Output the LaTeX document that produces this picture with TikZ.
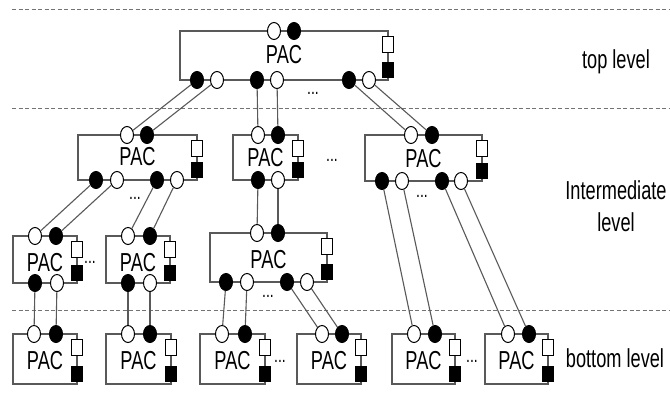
\documentclass[tikz,border=0pt]{standalone}
\usepackage{fontspec}
\newfontfamily\labfont[FakeStretch=0.7]{Liberation Sans}
\usetikzlibrary{shapes.geometric}
\tikzset{
 boxst/.style={rectangle, draw=black!65, line width=1.1pt, inner sep=0pt},
 op/.style={ellipse, draw=black, line width=1pt, fill=white, minimum width=13pt, minimum height=17pt, inner sep=0pt},
 fp/.style={op, fill=black},
 osq/.style={rectangle, draw=black, line width=0.8pt, fill=white, minimum width=10.5pt, minimum height=16pt, inner sep=0pt},
 fsq/.style={osq, fill=black, minimum height=15pt},
 pactext/.style={font=\labfont\fontsize{26}{30}\selectfont, inner sep=0pt, anchor=base},
 dotstext/.style={font=\labfont\fontsize{20}{24}\selectfont, inner sep=0pt, anchor=base},
 conn/.style={draw=black!65, line width=1.1pt},
 levelline/.style={draw=black!55, line width=0.9pt, dash pattern=on 4pt off 2.5pt},
 leveltext/.style={font=\labfont\fontsize{26}{32}\selectfont, inner sep=0pt, align=center},
}
\newcommand\PACbox[6]{%
 \node[boxst, minimum width={(#4-#2)*1pt}, minimum height={(#5-#3)*1pt}] (#1) at ({(#2+#4)/2},{(#3+#5)/2}) {};
 \node[osq] (#1-so) at ({#4},{#3+13}) {};
 \node[fsq] (#1-sf) at ({#4},{#5-10}) {};
 \node[pactext] (#1-t) at ({(#2+#4)/2},{#6}) {PAC};
}
\begin{document}
\begin{tikzpicture}[x=1pt,y=-1pt]
\fill[white] (0,0) rectangle (670,407);
\useasboundingbox (0,0) rectangle (670,407);

% level separators
\draw[levelline] (12,9.5) -- (670,9.5);
\draw[levelline] (12,108.5) -- (670,108.5);
\draw[levelline] (12,310.5) -- (670,310.5);

% level labels
\node[leveltext, anchor=base] (lt) at (616,68) {top level};
\node[leveltext] (li) at (616,206.5) {Intermediate\\level};
\node[leveltext, anchor=base] (lb) at (615,367) {bottom level};

% boxes
\PACbox{T}{180}{31}{388}{80}{63}
\PACbox{I1}{78}{135}{197}{180}{165}
\PACbox{I2}{233}{135}{298}{180}{166}
\PACbox{I3}{365}{135}{482}{181}{167}
\PACbox{L1}{13}{236}{77}{283}{271}
\PACbox{L2}{106}{236}{170}{283}{271}
\PACbox{L3}{210}{233}{327}{282}{268}
\PACbox{B1}{13}{334}{77}{384}{369}
\PACbox{B2}{106}{334}{171}{384}{369}
\PACbox{B3}{200}{334}{265}{384}{369}
\PACbox{B4}{297}{334}{361}{384}{369}
\PACbox{B5}{392}{334}{455}{384}{369}
\PACbox{B6}{485}{334}{548}{384}{369}

% ports: top
\node[op] (T-to) at (274,31) {};
\node[fp] (T-tf) at (294,31) {};
\node[fp] (T-b1f) at (197,80) {};
\node[op] (T-b1o) at (217,80) {};
\node[fp] (T-b2f) at (257,80) {};
\node[op] (T-b2o) at (277,80) {};
\node[fp] (T-b3f) at (349,80) {};
\node[op] (T-b3o) at (369,80) {};

% intermediate upper
\node[op] (I1-to) at (127,135) {};
\node[fp] (I1-tf) at (147,135) {};
\node[fp] (I1-b1f) at (96,180) {};
\node[op] (I1-b1o) at (117,180) {};
\node[fp] (I1-b2f) at (157,180) {};
\node[op] (I1-b2o) at (177,180) {};

\node[op] (I2-to) at (258,135) {};
\node[fp] (I2-tf) at (278,135) {};
\node[fp] (I2-bf) at (258,180) {};
\node[op] (I2-bo) at (278,180) {};

\node[op] (I3-to) at (411,135) {};
\node[fp] (I3-tf) at (432,135) {};
\node[fp] (I3-b1f) at (382,181) {};
\node[op] (I3-b1o) at (402,181) {};
\node[fp] (I3-b2f) at (442,181) {};
\node[op] (I3-b2o) at (461,181) {};

% intermediate lower
\node[op] (L1-to) at (35,236) {};
\node[fp] (L1-tf) at (56,236) {};
\node[fp] (L1-bf) at (35,283) {};
\node[op] (L1-bo) at (57,283) {};

\node[op] (L2-to) at (128,236) {};
\node[fp] (L2-tf) at (150,236) {};
\node[fp] (L2-bf) at (128,283) {};
\node[op] (L2-bo) at (150,283) {};

\node[op] (L3-to) at (257,233) {};
\node[fp] (L3-tf) at (278,233) {};
\node[fp] (L3-b1f) at (226,282) {};
\node[op] (L3-b1o) at (247,282) {};
\node[fp] (L3-b2f) at (287,282) {};
\node[op] (L3-b2o) at (307,282) {};

% bottom
\node[op] (B1-to) at (34,334) {};
\node[fp] (B1-tf) at (56,334) {};
\node[op] (B2-to) at (128,334) {};
\node[fp] (B2-tf) at (150,334) {};
\node[op] (B3-to) at (222,334) {};
\node[fp] (B3-tf) at (245,334) {};
\node[op] (B4-to) at (322,334) {};
\node[fp] (B4-tf) at (342,334) {};
\node[op] (B5-to) at (414,334) {};
\node[fp] (B5-tf) at (435,334) {};
\node[op] (B6-to) at (508,334) {};
\node[fp] (B6-tf) at (529,334) {};

% ellipsis marks
\node[dotstext] (d1) at (313,94) {...};
\node[dotstext] (d2) at (135,199) {...};
\node[dotstext] (d3) at (332,161) {...};
\node[dotstext] (d4) at (422,197) {...};
\node[dotstext] (d5) at (90,263) {...};
\node[dotstext] (d6) at (268,297) {...};
\node[dotstext] (d7) at (280,362) {...};
\node[dotstext] (d8) at (472,362) {...};

% connectors
\draw[conn] (T-b1f) -- (I1-to);
\draw[conn] (T-b1o) -- (I1-tf);
\draw[conn] (T-b2f) -- (I2-to);
\draw[conn] (T-b2o) -- (I2-tf);
\draw[conn] (T-b3f) -- (I3-to);
\draw[conn] (T-b3o) -- (I3-tf);

\draw[conn] (I1-b1f) -- (L1-to);
\draw[conn] (I1-b1o) -- (L1-tf);
\draw[conn] (I1-b2f) -- (L2-to);
\draw[conn] (I1-b2o) -- (L2-tf);
\draw[conn] (I2-bf) -- (L3-to);
\draw[conn] (I2-bo) -- (L3-tf);
\draw[conn] (I3-b1f) -- (B5-to);
\draw[conn] (I3-b1o) -- (B5-tf);
\draw[conn] (I3-b2f) -- (B6-to);
\draw[conn] (I3-b2o) -- (B6-tf);

\draw[conn] (L1-bf) -- (B1-to);
\draw[conn] (L1-bo) -- (B1-tf);
\draw[conn] (L2-bf) -- (B2-to);
\draw[conn] (L2-bo) -- (B2-tf);
\draw[conn] (L3-b1f) -- (B3-to);
\draw[conn] (L3-b1o) -- (B3-tf);
\draw[conn] (L3-b2f) -- (B4-to);
\draw[conn] (L3-b2o) -- (B4-tf);
\end{tikzpicture}
\end{document}
